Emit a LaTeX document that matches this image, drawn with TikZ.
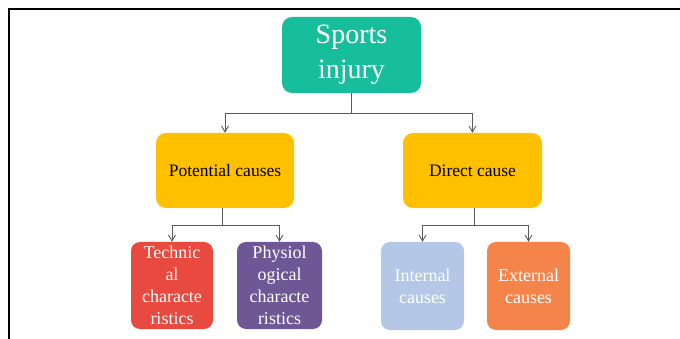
\documentclass[tikz,border=0pt]{standalone}
\usepackage{fontspec}
\setmainfont{Liberation Serif}
\usetikzlibrary{arrows.meta}
\definecolor{cteal}{RGB}{23,190,155}
\definecolor{cgold}{RGB}{255,192,0}
\definecolor{cred}{RGB}{232,74,63}
\definecolor{cpurple}{RGB}{110,87,148}
\definecolor{cblue}{RGB}{180,199,231}
\definecolor{corange}{RGB}{244,132,74}
\definecolor{cline}{RGB}{90,90,90}
\begin{document}
\begin{tikzpicture}[x=1pt,y=-1pt,
  box/.style={rectangle, rounded corners=10pt, draw=none, align=center, inner sep=0pt},
  leaf/.style={box, rounded corners=9pt, text=white, font=\fontsize{18}{21.8}\selectfont},
  conn/.style={draw=cline, line width=0.9pt, -{Straight Barb[length=6pt,width=7pt]}},
  link/.style={draw=cline, line width=0.9pt}]
\useasboundingbox (0,0) rectangle (680,339);
\draw[line width=1.3pt] (9,339) -- (9,9) -- (680,9);

\node[box, fill=cteal, text=white, minimum width=139pt, minimum height=76pt,
  font=\fontsize{28}{35}\selectfont] (si) at (351.5,55) {Sports\\injury};
\node[box, fill=cgold, minimum width=138pt, minimum height=75pt,
  font=\fontsize{17.5}{21}\selectfont] (pc) at (225,170.5) {Potential causes};
\node[box, fill=cgold, minimum width=139pt, minimum height=75pt,
  font=\fontsize{17.5}{21}\selectfont] (dc) at (472.5,170.5) {Direct cause};

\node[leaf, fill=cred, minimum width=82pt, minimum height=87pt] (tc) at (172,285.5) {Technic\\al\\characte\\ristics};
\node[leaf, fill=cpurple, minimum width=85pt, minimum height=87pt] (ph) at (279.5,285.5) {Physiol\\ogical\\characte\\ristics};
\node[leaf, fill=cblue, minimum width=83pt, minimum height=88pt] (ic) at (422.5,286) {Internal\\causes};
\node[leaf, fill=corange, minimum width=83pt, minimum height=88pt] (ec) at (528.5,286) {External\\causes};

\coordinate (j1) at (351.5,113);
\coordinate (j2) at (222,225);
\coordinate (j3) at (474,225);

\draw[link] (si.south) -- (j1);
\draw[conn] (j1) -| (pc.north);
\draw[conn] (j1) -| (dc.north);
\draw[link] (pc.south -| j2) -- (j2);
\draw[conn] (j2) -| (tc.north);
\draw[conn] (j2) -| (ph.north);
\draw[link] (dc.south -| j3) -- (j3);
\draw[conn] (j3) -| (ic.north);
\draw[conn] (j3) -| (ec.north);
\end{tikzpicture}
\end{document}
